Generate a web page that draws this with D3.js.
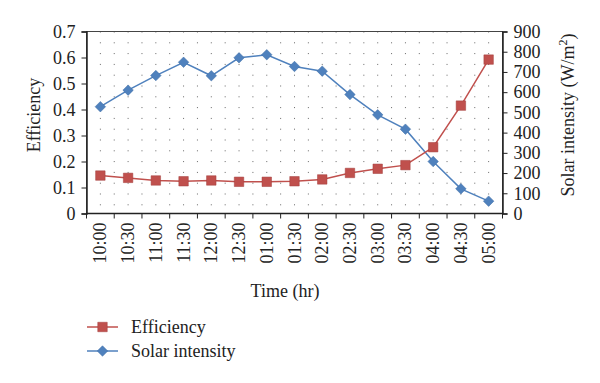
<!DOCTYPE html>
<html><head><meta charset="utf-8">
<script src="https://cdn.jsdelivr.net/npm/d3@7"></script>
<style>body{margin:0;background:#fff}svg{display:block}text{font-family:"Liberation Serif","Times New Roman",serif;fill:#222}</style>
</head><body>
<svg id="c" width="600" height="383"></svg>
<script>
const categories = ["10:00","10:30","11:00","11:30","12:00","12:30","01:00","01:30","02:00","02:30","03:00","03:30","04:00","04:30","05:00"];
const efficiency = [0.146,0.137,0.127,0.124,0.127,0.122,0.122,0.124,0.131,0.156,0.172,0.186,0.255,0.415,0.592];
const solarIntensity = [528,610,682,748,681,770,785,727,704,588,488,417,257,122,61];
const leftTicks = [0,0.1,0.2,0.3,0.4,0.5,0.6,0.7];
const rightTicks = [0,100,200,300,400,500,600,700,800,900];

const svg = d3.select("#c");
const L=86.5, R=502.5, T=31.5, B=213.5;
const x = d3.scaleBand().domain(categories).range([L,R]);
const yL = d3.scaleLinear().domain([0,0.7]).range([B,T]);
const yR = d3.scaleLinear().domain([0,900]).range([B,T]);
const red="#C0504D", blue="#4F81BD";

// dotted pattern fill
const defs = svg.append("defs");
const bw = x.bandwidth();
const pat = defs.append("pattern").attr("id","dots").attr("patternUnits","userSpaceOnUse")
  .attr("x", L + bw/2 - 0.5).attr("y", T).attr("width", bw/2).attr("height", 10.8);
pat.append("rect").attr("x",0).attr("y",0).attr("width",1).attr("height",1).attr("fill","#666");
svg.append("rect").attr("x",L).attr("y",T).attr("width",R-L).attr("height",B-T).attr("fill","url(#dots)");
svg.append("rect").attr("x",L).attr("y",T).attr("width",R-L).attr("height",B-T).attr("fill","none").attr("stroke","#444").attr("stroke-width",1);

const fs = "18px";
// left axis
const gl = svg.append("g").attr("transform",`translate(${L},0)`)
  .call(d3.axisLeft(yL).tickValues(leftTicks).tickSize(5).tickPadding(6).tickFormat(d=> d===0?"0":d3.format(".1f")(d)));
// right axis
const gr = svg.append("g").attr("transform",`translate(${R},0)`)
  .call(d3.axisRight(yR).tickValues(rightTicks).tickSize(5).tickPadding(6));
// bottom axis (ticks at band boundaries)
const gb = svg.append("g").attr("transform",`translate(0,${B})`);
gb.append("line").attr("x1",L).attr("x2",R).attr("stroke","#222").attr("stroke-width",1.5);
gb.selectAll("line.tk").data(d3.range(categories.length+1)).join("line").attr("class","tk")
  .attr("x1",i=>L+i*bw).attr("x2",i=>L+i*bw).attr("y1",0).attr("y2",5).attr("stroke","#222");
gb.selectAll("text").data(categories).join("text")
  .attr("transform",d=>`translate(${x(d)+bw/2+6},9) rotate(-90)`)
  .attr("text-anchor","end").style("font-size",fs).text(d=>d);

[gl,gr].forEach(g=>{
  g.select(".domain").attr("stroke","#222").attr("stroke-width",1.5);
  g.selectAll(".tick line").attr("stroke","#222");
  g.selectAll("text").style("font-size",fs).style("font-family",'"Liberation Serif",serif').attr("fill","#222");
});

// lines
const cx = d=>x(d)+bw/2;
const lineE = d3.line().x((d,i)=>cx(categories[i])).y(d=>yL(d));
const lineS = d3.line().x((d,i)=>cx(categories[i])).y(d=>yR(d));
svg.append("path").datum(solarIntensity).attr("d",lineS).attr("fill","none").attr("stroke",blue).attr("stroke-width",1.5);
svg.append("path").datum(efficiency).attr("d",lineE).attr("fill","none").attr("stroke",red).attr("stroke-width",1.5);
const sq = d3.symbol().type(d3.symbolSquare).size(90);
const dm = d3.symbol().type(d3.symbolSquare).size(55);
svg.selectAll("path.s").data(solarIntensity).join("path").attr("class","s")
  .attr("d",dm).attr("transform",(d,i)=>`translate(${cx(categories[i])},${yR(d)}) rotate(45)`).attr("fill",blue).attr("stroke","#3f6fa6").attr("stroke-width",0.5);
svg.selectAll("path.e").data(efficiency).join("path").attr("class","e")
  .attr("d",sq).attr("transform",(d,i)=>`translate(${cx(categories[i])},${yL(d)})`).attr("fill",red).attr("stroke","#a23f3c").attr("stroke-width",0.5);

// axis titles
svg.append("text").attr("transform","translate(40,115) rotate(-90)").attr("text-anchor","middle").style("font-size",fs).text("Efficiency");
const rt = svg.append("text").attr("transform","translate(574,115) rotate(-90)").attr("text-anchor","middle").style("font-size",fs);
rt.append("tspan").text("Solar intensity (W/m");
rt.append("tspan").attr("dy",-7).style("font-size","12px").text("2");
rt.append("tspan").attr("dy",7).text(")");
svg.append("text").attr("x",285).attr("y",297).attr("text-anchor","middle").style("font-size",fs).text("Time (hr)");

// legend
const leg = [{name:"Efficiency",color:red,sym:sq,rot:0,stroke:"#a23f3c"},{name:"Solar intensity",color:blue,sym:dm,rot:45,stroke:"#3f6fa6"}];
const lg = svg.selectAll("g.leg").data(leg).join("g").attr("class","leg").attr("transform",(d,i)=>`translate(0,${327+i*24})`);
lg.append("line").attr("x1",87).attr("x2",118).attr("stroke",d=>d.color).attr("stroke-width",1.5);
lg.append("path").attr("d",d=>d.sym()).attr("transform",d=>`translate(102.5,0) rotate(${d.rot})`).attr("fill",d=>d.color).attr("stroke",d=>d.stroke).attr("stroke-width",0.5);
lg.append("text").attr("x",131).attr("y",6).style("font-size",fs).text(d=>d.name);
</script>
</body></html>
